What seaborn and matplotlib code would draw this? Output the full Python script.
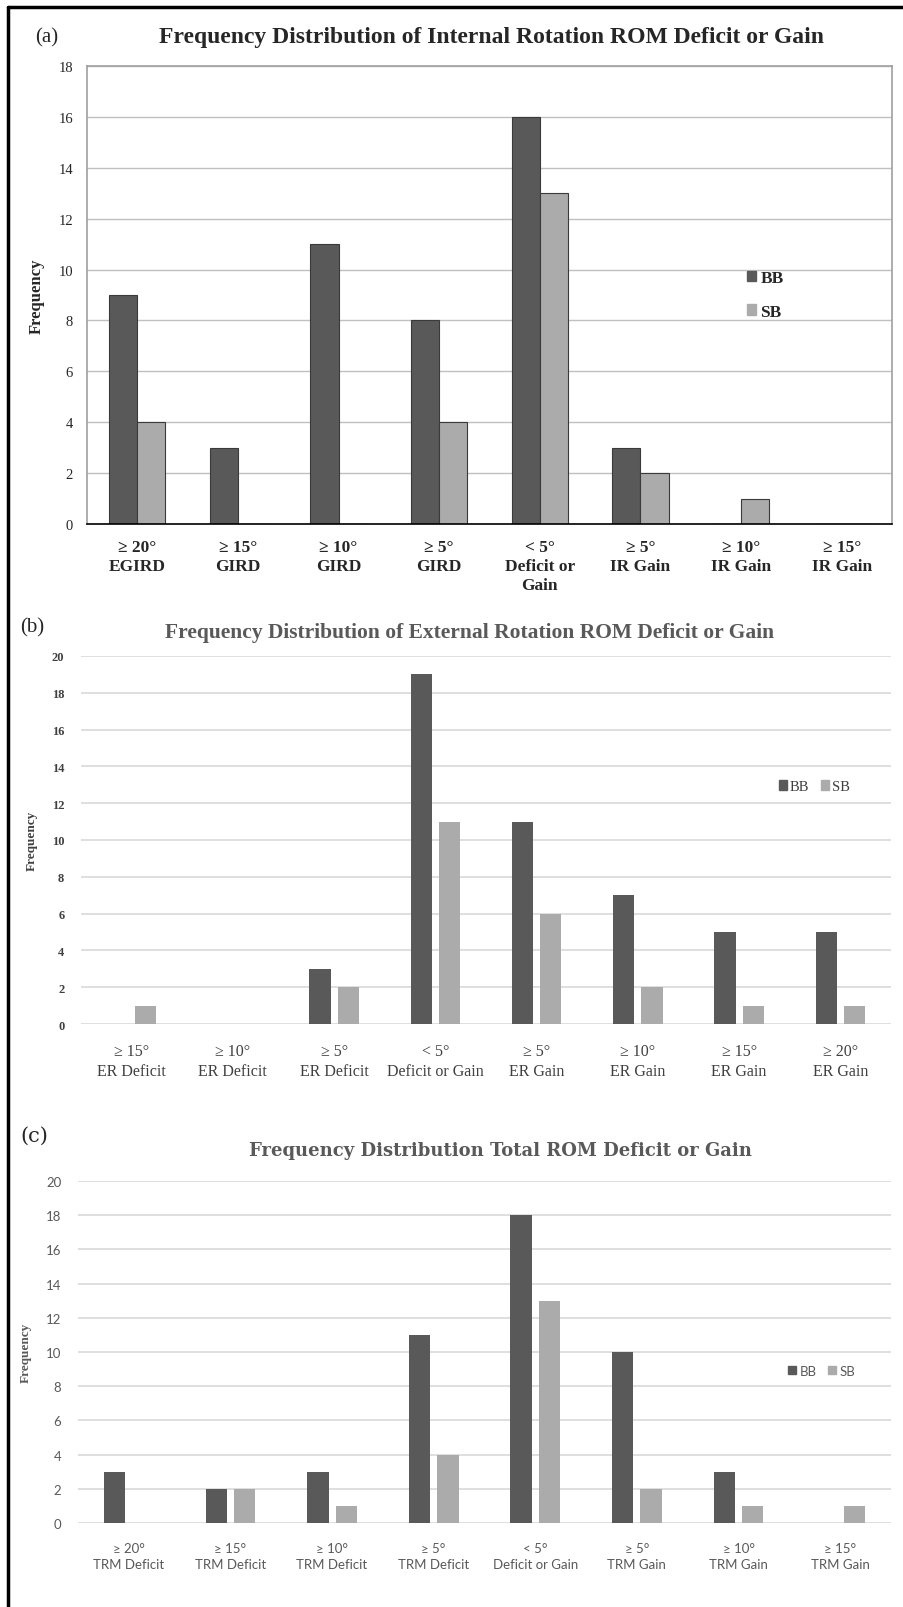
import numpy as np
import pandas as pd
import matplotlib
matplotlib.use("Agg")
from matplotlib import pyplot as plt
from matplotlib.patches import Patch
from matplotlib.lines import Line2D
import seaborn as sns

groups = ["BB", "SB"]

ir_labels = ["≥ 20°\nEGIRD", "≥ 15°\nGIRD", "≥ 10°\nGIRD", "≥ 5°\nGIRD",
             "< 5°\nDeficit or\nGain", "≥ 5°\nIR Gain", "≥ 10°\nIR Gain", "≥ 15°\nIR Gain"]
ir_bb = [9, 3, 11, 8, 16, 3, 0, 0]
ir_sb = [4, 0, 0, 4, 13, 2, 1, 0]

er_labels = ["≥ 15°\nER Deficit", "≥ 10°\nER Deficit", "≥ 5°\nER Deficit", "< 5°\nDeficit or Gain",
             "≥ 5°\nER Gain", "≥ 10°\nER Gain", "≥ 15°\nER Gain", "≥ 20°\nER Gain"]
er_bb = [0, 0, 3, 19, 11, 7, 5, 5]
er_sb = [1, 0, 2, 11, 6, 2, 1, 1]

trm_labels = ["≥ 20°\nTRM Deficit", "≥ 15°\nTRM Deficit", "≥ 10°\nTRM Deficit", "≥ 5°\nTRM Deficit",
              "< 5°\nDeficit or Gain", "≥ 5°\nTRM Gain", "≥ 10°\nTRM Gain", "≥ 15°\nTRM Gain"]
trm_bb = [3, 2, 3, 11, 18, 10, 3, 0]
trm_sb = [0, 2, 1, 4, 13, 2, 1, 1]

BB_COL = "#595959"
SB_COL = "#ababab"
SERIF = ["Liberation Serif", "DejaVu Serif"]
SANS = ["Lato", "DejaVu Sans"]


def long_table(labels, bb, sb):
    n = len(labels)
    return pd.DataFrame({"category": labels * 2,
                         "group": ["BB"] * n + ["SB"] * n,
                         "freq": bb + sb})


def bars(ax, labels, bb, sb, gap, edge):
    sns.barplot(data=long_table(labels, bb, sb), x="category", y="freq", hue="group",
                order=labels, hue_order=groups, palette=[BB_COL, SB_COL],
                saturation=1, width=0.56, gap=gap, legend=False, ax=ax,
                edgecolor=edge, linewidth=0.8)
    ax.set_xlim(-0.5, len(labels) - 0.5)
    ax.set_xlabel("")
    ax.set_axisbelow(True)


sns.set_style("white")
plt.rcParams["font.family"] = SERIF

fig = plt.figure(figsize=(9.04, 16.08), dpi=100)
W, H = 904, 1608


def place(left, right, top, bottom):
    return fig.add_axes([left / W, 1 - bottom / H, (right - left) / W, (bottom - top) / H])


# outer frame of the composite figure
fig.add_artist(Line2D([8 / W, 8 / W], [0, 1 - 8 / H], color="black", lw=2.5))
fig.add_artist(Line2D([8 / W, 1], [1 - 8 / H, 1 - 8 / H], color="black", lw=2.5))

# ---- (a) internal rotation
ax = place(87, 892, 67, 525)
bars(ax, ir_labels, ir_bb, ir_sb, 0, "#3a3a3a")
ax.set_ylim(0, 18)
ax.set_yticks(range(0, 19, 2))
ax.yaxis.grid(True, color="#c0c0c0", lw=1)
for s in ["left", "top", "right"]:
    ax.spines[s].set_color("#a0a0a0")
    ax.spines[s].set_linewidth(1.2)
ax.spines["bottom"].set_color("black")
ax.spines["bottom"].set_linewidth(1.2)
ax.set_xticks(range(8))
ax.set_xticklabels(ir_labels, fontweight="bold", fontsize=12.5, linespacing=1.25)
ax.set_xticks(np.arange(-0.5, 8, 1), minor=True)
ax.tick_params(axis="x", which="major", length=0, pad=11)
ax.tick_params(axis="x", which="minor", length=9, width=1, direction="inout", color="black")
ax.tick_params(axis="y", length=0, labelsize=10.5, pad=10)
ax.set_ylabel("Frequency", fontweight="bold", fontsize=12, labelpad=10)
ax.legend(handles=[Patch(color=BB_COL, label="BB"), Patch(color=SB_COL, label="SB")],
          loc="center left", bbox_to_anchor=(0.80, 0.5), frameon=False,
          prop={"family": SERIF, "weight": "bold", "size": 12.5},
          handlelength=0.55, handleheight=0.55, handletextpad=0.25, labelspacing=1.0)
fig.text(35 / W, 1 - 38 / H, "(a)", fontsize=15, va="center", ha="left")
fig.text(492 / W, 1 - 38 / H, "Frequency Distribution of Internal Rotation ROM Deficit or Gain",
         fontsize=17, fontweight="bold", ha="center", va="center")

# ---- (b) external rotation
ax = place(81, 891, 657, 1025)
bars(ax, er_labels, er_bb, er_sb, 0.25, "none")
ax.set_ylim(0, 20)
ax.set_yticks(range(0, 21, 2))
ax.yaxis.grid(True, color="#d9d9d9", lw=1.2)
sns.despine(ax=ax, left=True, bottom=True)
ax.set_xticks(range(8))
ax.set_xticklabels(er_labels, fontsize=11.5, color="#404040", linespacing=1.3)
ax.tick_params(axis="x", length=0, pad=14)
ax.tick_params(axis="y", length=0, labelsize=9, labelcolor="#404040", pad=12)
for t in ax.get_yticklabels():
    t.set_fontweight("bold")
ax.set_ylabel("Frequency", fontweight="bold", fontsize=9.5, color="#404040", labelpad=10)
ax.legend(handles=[Patch(color=BB_COL, label="BB"), Patch(color=SB_COL, label="SB")],
          loc="center", bbox_to_anchor=(0.905, 0.645), frameon=False, ncol=2,
          prop={"family": SERIF, "size": 10.5}, labelcolor="#404040",
          handlelength=0.6, handleheight=0.6, handletextpad=0.15, columnspacing=0.8)
fig.text(20 / W, 1 - 628 / H, "(b)", fontsize=15, va="center", ha="left")
fig.text(470 / W, 1 - 633 / H, "Frequency Distribution of External Rotation ROM Deficit or Gain",
         fontsize=15.5, fontweight="bold", color="#595959", ha="center", va="center")

# ---- (c) total rotation
ax = place(78, 891, 1182, 1524)
bars(ax, trm_labels, trm_bb, trm_sb, 0.25, "none")
ax.set_ylim(0, 20)
ax.set_yticks(range(0, 21, 2))
ax.yaxis.grid(True, color="#d9d9d9", lw=1.2)
sns.despine(ax=ax, left=True, bottom=True)
ax.set_xticks(range(8))
ax.set_xticklabels(trm_labels, fontsize=9.5, color="#595959", family=SANS, linespacing=1.35)
ax.tick_params(axis="x", length=0, pad=14)
ax.tick_params(axis="y", length=0, labelsize=9.5, labelcolor="#595959", pad=12)
for t in ax.get_yticklabels():
    t.set_family(SANS)
ax.set_ylabel("Frequency", fontweight="bold", fontsize=9.5, color="#595959", labelpad=10)
ax.legend(handles=[Patch(color=BB_COL, label="BB"), Patch(color=SB_COL, label="SB")],
          loc="center", bbox_to_anchor=(0.915, 0.445), frameon=False, ncol=2,
          prop={"family": SANS, "size": 9.5}, labelcolor="#595959",
          handlelength=0.6, handleheight=0.6, handletextpad=0.3, columnspacing=0.8)
fig.text(20 / W, 1 - 1136 / H, "(c)", fontsize=15, va="center", ha="left", family=["DejaVu Serif"])
fig.text(500 / W, 1 - 1151 / H, "Frequency Distribution Total ROM Deficit or Gain",
         fontsize=13, fontweight="bold", color="#595959", ha="center", va="center",
         family=["DejaVu Serif"])

fig.savefig("out.png", dpi=100)
